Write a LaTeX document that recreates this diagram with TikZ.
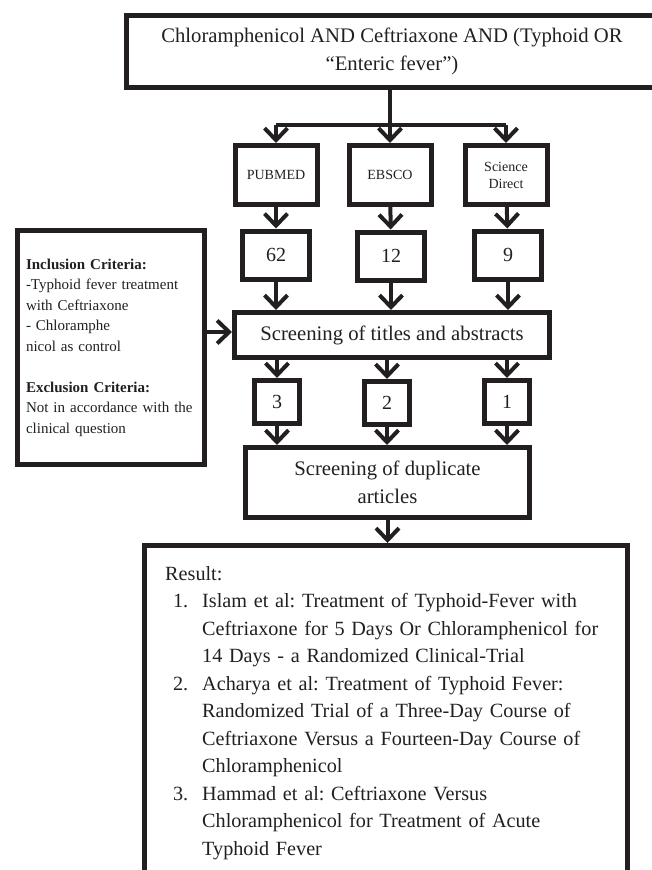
\documentclass[tikz,border=0pt]{standalone}
\usepackage{fontspec}
\setmainfont{Liberation Serif}
\usepackage{enumitem}
\usetikzlibrary{arrows.meta, positioning}
\definecolor{ink}{HTML}{231F20}
\frenchspacing

\begin{document}
\begin{tikzpicture}[
    x=1pt, y=-1pt,
    box/.style={
        rectangle,
        draw=ink,
        line width=5pt,
        align=center,
        text=ink,
        inner sep=2pt
    },
    query/.style={
        box,
        minimum width=532pt,
        minimum height=72pt,
        font=\fontsize{20.7}{28}\selectfont
    },
    source/.style={
        box,
        minimum width=82pt,
        minimum height=59pt,
        font=\fontsize{14}{17}\selectfont
    },
    count/.style={
        box,
        minimum width=67pt,
        minimum height=48pt,
        font=\fontsize{20}{24}\selectfont
    },
    kept/.style={
        box,
        minimum width=45pt,
        minimum height=43pt,
        font=\fontsize{20}{24}\selectfont
    },
    stage/.style={
        box,
        font=\fontsize{20.7}{27.5}\selectfont
    },
    link/.style={
        draw=ink,
        line width=4pt
    },
    arrow/.style={
        link,
        -{Straight Barb[length=12pt,width=23pt]}
    }
]

\useasboundingbox (0,0) rectangle (652,870);
\clip (0,0) rectangle (652,870);

\node[query] (query) at (392,51.5) {
    Chloramphenicol AND Ceftriaxone AND (Typhoid OR\\
    ``Enteric fever'')
};
\coordinate (split) at (390,125);

\node[source] (pubmed) at (276,175) {PUBMED};
\node[source] (ebsco) at (390,175) {EBSCO};
\node[source] (sci) at (506,175) {Science\\Direct};

\node[count] (n62) at (276,255) {62};
\node[count] (n12) at (391,256) {12};
\node[count] (n9) at (508,255) {9};

\node[stage, minimum width=315pt, minimum height=45pt] (screen) at (392,335) {Screening of titles and abstracts};

\node[box, align=left, text width=170pt, inner xsep=8.5pt, minimum height=234pt,
      font=\fontsize{15}{20.5}\selectfont] (criteria) at (111,347.5) {
    \textbf{Inclusion Criteria:}\\
    -Typhoid fever treatment\\
    with Ceftriaxone\\
    - Chloramphe\\
    nicol as control\\[20.5pt]
    \textbf{Exclusion Criteria:}\\
    Not in accordance with the\\
    clinical question
};

\node[kept] (k3) at (277,402) {3};
\node[kept] (k2) at (387,403) {2};
\node[kept] (k1) at (507,402) {1};

\node[stage, minimum width=284pt, minimum height=70pt] (dup) at (387.5,482.5) {
    Screening of duplicate\\
    articles
};

\node[box, minimum width=483pt, minimum height=354.5pt] (result) at (386,722.75) {};
\node[anchor=north west, text=ink, text width=450pt, inner sep=0pt, align=left,
      font=\fontsize{20.2}{27.5}\selectfont] (restext) at ([shift={(23,23)}]result.north west) {
    Result:
    \begin{enumerate}[nosep, leftmargin=37pt, labelsep=14pt, label=\arabic*.]
        \item Islam et al: Treatment of Typhoid-Fever with\\
              Ceftriaxone for 5 Days Or Chloramphenicol for\\
              14 Days - a Randomized Clinical-Trial
        \item Acharya et al: Treatment of Typhoid Fever:\\
              Randomized Trial of a Three-Day Course of\\
              Ceftriaxone Versus a Fourteen-Day Course of\\
              Chloramphenicol
        \item Hammad et al: Ceftriaxone Versus\\
              Chloramphenicol for Treatment of Acute\\
              Typhoid Fever
    \end{enumerate}
};

% search split
\draw[link] (split |- query.south) -- (split);
\draw[link] (pubmed |- split) -- (sci |- split);
\draw[arrow] (pubmed |- split) -- (pubmed);
\draw[arrow] (ebsco |- split) -- (ebsco);
\draw[arrow] (sci |- split) -- (sci);

\draw[arrow] (pubmed) -- (n62);
\draw[arrow] (ebsco) -- (n12);
\draw[arrow] (sci) -- (n9);

\draw[arrow] (n62) -- (n62 |- screen.north);
\draw[arrow] (n12) -- (n12 |- screen.north);
\draw[arrow] (n9) -- (n9 |- screen.north);
\draw[arrow] (criteria.east |- 0,332) -- (screen.west |- 0,332);

\draw[arrow] (k3 |- screen.south) -- (k3);
\draw[arrow] (k2 |- screen.south) -- (k2);
\draw[arrow] (k1 |- screen.south) -- (k1);

\draw[arrow] (k3) -- (k3 |- dup.north);
\draw[arrow] (k2) -- (k2 |- dup.north);
\draw[arrow] (k1) -- (k1 |- dup.north);

\draw[arrow] (dup) -- (dup |- result.north);

\end{tikzpicture}
\end{document}
